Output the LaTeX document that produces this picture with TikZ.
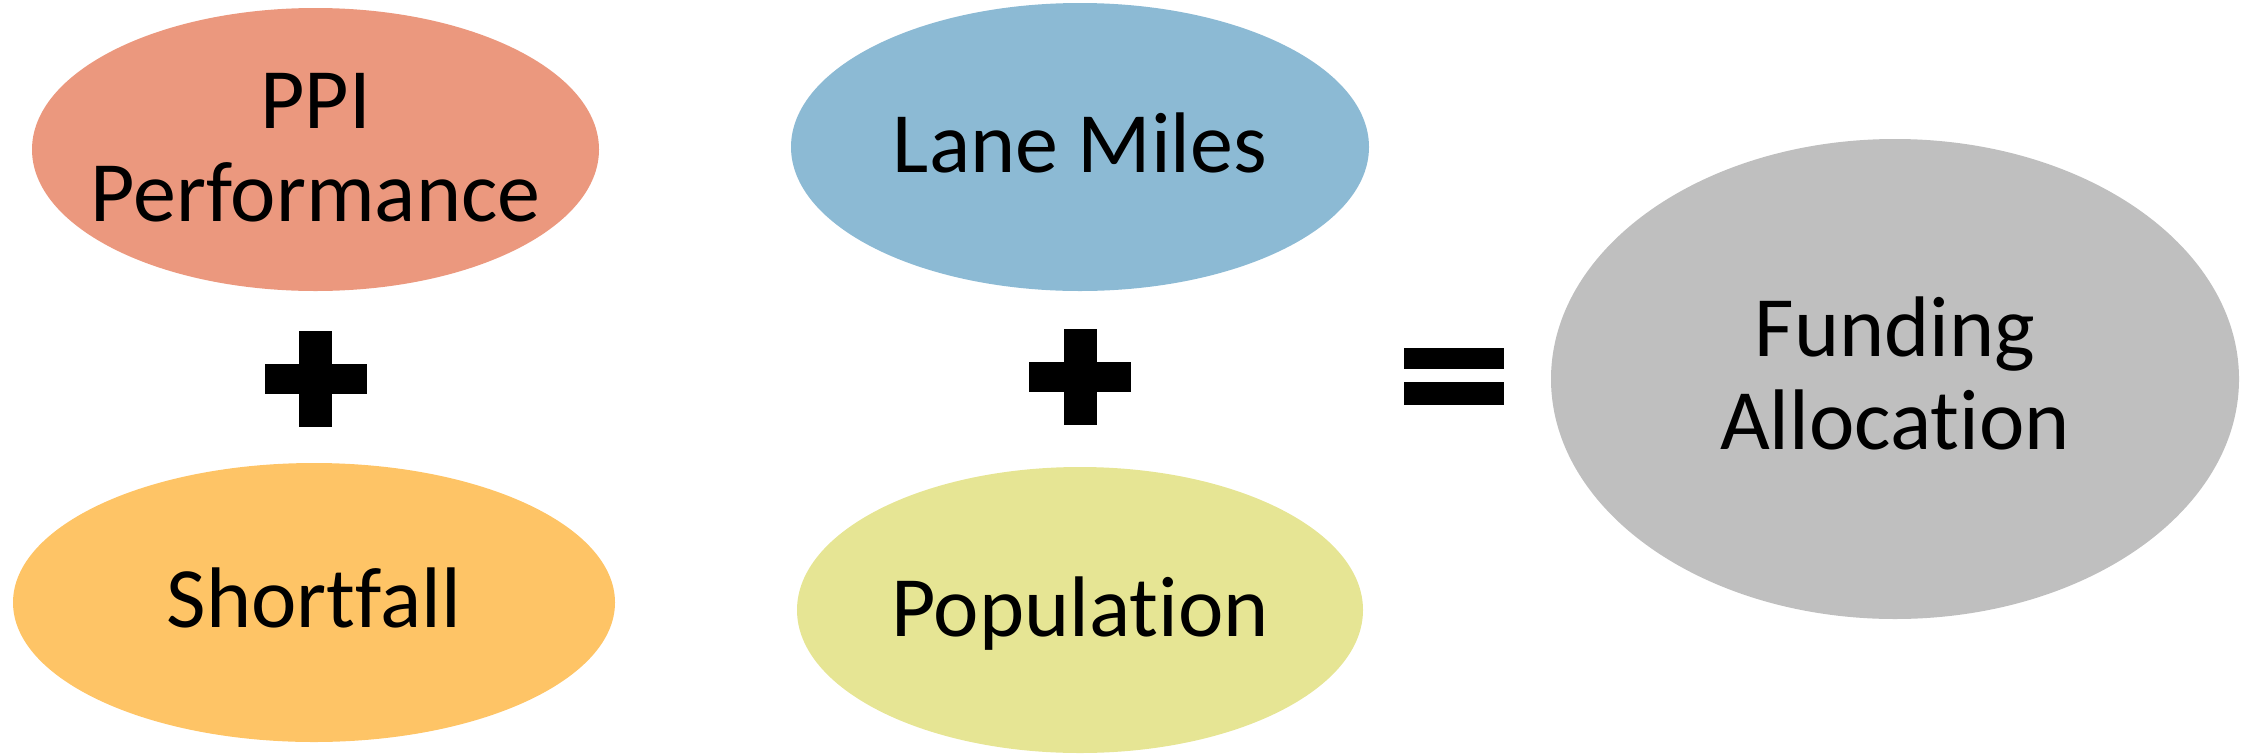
\documentclass[tikz,border=0pt]{standalone}
\usepackage{fontspec}
\setmainfont{Carlito}[Ligatures={NoCommon}]
\usetikzlibrary{shapes.geometric}
\definecolor{cppi}{HTML}{EB987E}
\definecolor{cshort}{HTML}{FEC466}
\definecolor{clane}{HTML}{8CBAD4}
\definecolor{cpop}{HTML}{E6E594}
\definecolor{cfund}{HTML}{BFBFBF}
\tikzset{
  blob/.style={ellipse, draw=none, inner sep=0pt},
  lbl/.style={anchor=base, align=center, inner sep=0pt, font=\fontsize{86}{93}\selectfont, text=black},
  symb/.style={fill=black}
}
\begin{document}
\begin{tikzpicture}[x=1pt, y=-1pt]
\useasboundingbox (0,0) rectangle (2254,753);
% ellipses
\node[blob, fill=cppi, minimum width=567pt, minimum height=283pt] (ppi) at (315.5,149.5) {};
\node[blob, fill=cshort, minimum width=602pt, minimum height=279pt] (short) at (314,602.5) {};
\node[blob, fill=clane, minimum width=578pt, minimum height=288pt] (lane) at (1080,147) {};
\node[blob, fill=cpop, minimum width=566pt, minimum height=286pt] (pop) at (1080,610) {};
\node[blob, fill=cfund, minimum width=688pt, minimum height=480pt] (fund) at (1895,379) {};
% labels (base anchor = baseline of the last line)
\node[lbl] (ppit) at (315.5,221) {PPI\\Performance};
\node[lbl] (shortt) at (314,627) {Shortfall};
\node[lbl] (lanet) at (1080,172) {Lane Miles};
\node[lbl] (popt) at (1080,636) {Population};
\node[lbl] (fundt) at (1895,449) {Funding\\Allocation};
% plus signs
\coordinate (p1) at (315.5,379);
\coordinate (p2) at (1080,377);
\coordinate (eq) at (1454,376);
\fill[symb] ([shift={(-51,-15)}]p1) rectangle ([shift={(51,15)}]p1);
\fill[symb] ([shift={(-16.5,-48)}]p1) rectangle ([shift={(16.5,48)}]p1);
\fill[symb] ([shift={(-51,-15)}]p2) rectangle ([shift={(51,15)}]p2);
\fill[symb] ([shift={(-16.5,-48)}]p2) rectangle ([shift={(16.5,48)}]p2);
% equals sign
\fill[symb] ([shift={(-50,-28)}]eq) rectangle ([shift={(50,-7)}]eq);
\fill[symb] ([shift={(-50,6)}]eq) rectangle ([shift={(50,29)}]eq);
\end{tikzpicture}
\end{document}
